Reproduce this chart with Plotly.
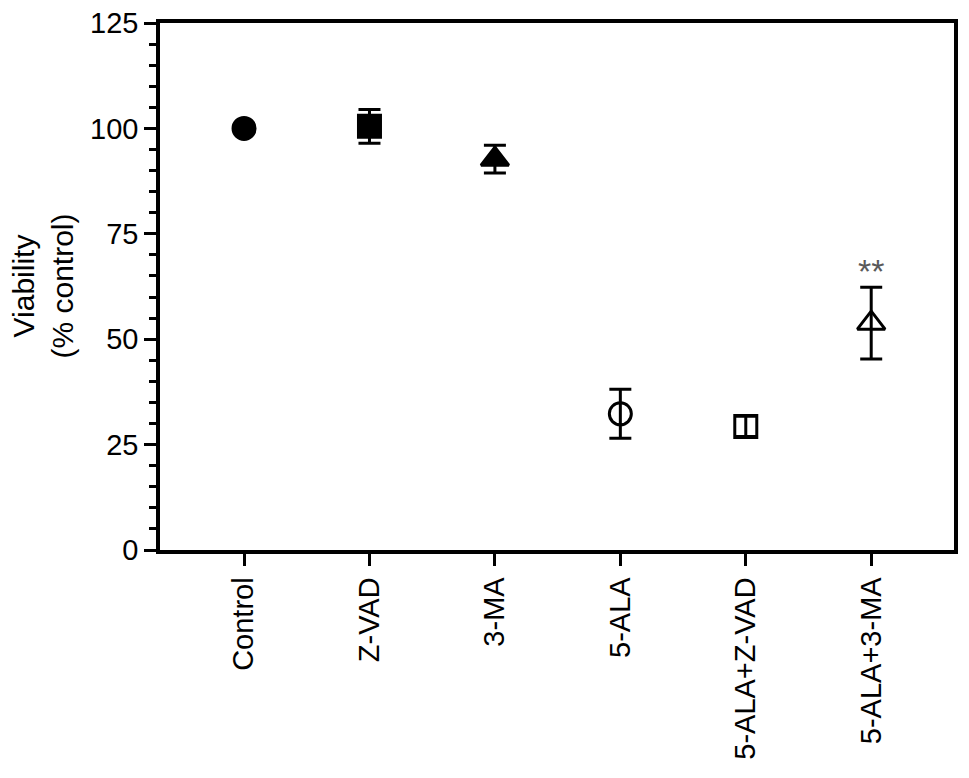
import plotly.graph_objects as go

categories = ["Control", "Z-VAD", "3-MA", "5-ALA", "5-ALA+Z-VAD", "5-ALA+3-MA"]
viability = [100.0, 100.5, 92.7, 32.3, 29.3, 53.8]
sem = [0.8, 4.0, 3.3, 5.8, 2.4, 8.5]
symbols = ["circle", "square", "triangle-up", "circle-open", "square-open", "triangle-up-open"]
marker_sizes = [22, 22, 24, 22, 22, 24]
sig_labels = ["", "", "", "", "", "**"]
y_ticks = [0, 25, 50, 75, 100, 125]

FONT = "Liberation Sans, Arial, Helvetica, sans-serif"

fig = go.Figure()
for i, cat in enumerate(categories):
    fig.add_trace(go.Scatter(
        x=[cat], y=[viability[i]],
        mode="markers",
        marker=dict(symbol=symbols[i], size=marker_sizes[i], color="black",
                    line=dict(color="black", width=3)),
        error_y=dict(type="data", array=[sem[i]], visible=True,
                     color="black", thickness=3, width=11),
        showlegend=False,
    ))

for i, lab in enumerate(sig_labels):
    if lab:
        fig.add_annotation(x=categories[i], y=viability[i] + sem[i] + 3.9, text=lab,
                           showarrow=False, xanchor="center", yanchor="middle",
                           font=dict(family=FONT, size=34, color="#5a5a5a"))

fig.add_annotation(xref="paper", yref="paper", x=-0.1486, y=0.5,
                   text="Viability<br>(% control)", showarrow=False, textangle=-90,
                   xanchor="center", yanchor="middle",
                   font=dict(family=FONT, size=30, color="black"))

fig.update_xaxes(
    type="category", categoryorder="array", categoryarray=categories,
    range=[-0.67, 5.66], automargin=False,
    showline=True, linecolor="black", linewidth=3.5, mirror=True,
    ticks="outside", ticklen=12, tickwidth=3, tickcolor="black",
    tickangle=-90, tickfont=dict(family=FONT, size=29, color="black"),
    showgrid=False, zeroline=False,
)
fig.update_yaxes(
    range=[0, 125], tickvals=y_ticks, ticktext=[str(t) for t in y_ticks],
    automargin=False,
    showline=True, linecolor="black", linewidth=3.5, mirror=True,
    ticks="outside", ticklen=12, tickwidth=3, tickcolor="black",
    minor=dict(dtick=5, ticks="outside", ticklen=7, tickwidth=3, tickcolor="black", showgrid=False),
    tickfont=dict(family=FONT, size=29, color="black"),
    showgrid=False, zeroline=False,
)
fig.update_layout(
    width=969, height=778,
    margin=dict(l=160, r=15, t=23, b=228),
    plot_bgcolor="white", paper_bgcolor="white",
    font=dict(family=FONT, size=29, color="black"),
)
fig.write_html(
    "out.html",
    config={"displayModeBar": False},
    post_script="document.body.style.margin='0';document.body.style.padding='0';document.body.style.overflow='hidden';",
)
